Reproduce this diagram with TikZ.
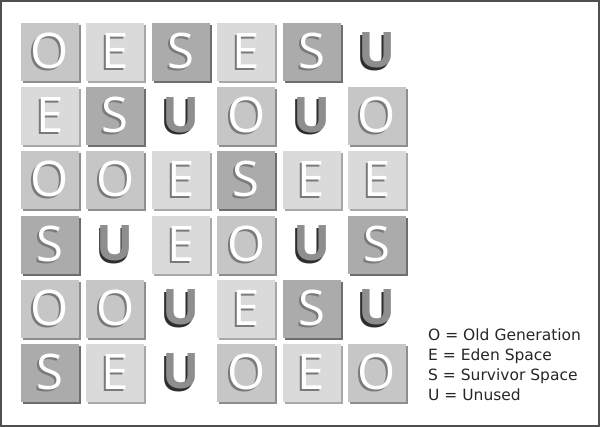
\documentclass[tikz,border=0pt]{standalone}
\usepackage{fontspec}
\setmainfont{DejaVu Sans}
\newfontfamily\blockfont{Open Sans}
\usetikzlibrary{positioning,shadows}

\definecolor{oldgen}{HTML}{C6C6C6}
\definecolor{eden}{HTML}{DADADA}
\definecolor{survivor}{HTML}{ABABAB}
\definecolor{oldedge}{HTML}{8E8E8E}
\definecolor{edenedge}{HTML}{A8A8A8}
\definecolor{survedge}{HTML}{6E6E6E}
\definecolor{carveshade}{HTML}{7A7A7A}
\definecolor{unusedface}{HTML}{8E8E8E}
\definecolor{unusedshade}{HTML}{2E2E2E}
\definecolor{framegray}{HTML}{4F4F4F}

% white letter cut into a block, grey edge down-left
\newcommand\carve[1]{\rlap{\kern-2pt\raisebox{-2pt}{\textcolor{carveshade}{#1}}}\textcolor{white}{#1}}
% free-standing grey letter
\newcommand\raised[1]{\rlap{\kern-1.5pt\raisebox{-2.5pt}{\textcolor{unusedshade}{#1}}}\textcolor{unusedface}{#1}}
\newcommand\blockletter[1]{\if U#1\raised{#1}\else\carve{#1}\fi}

\begin{document}
\begin{tikzpicture}[
                x=1pt, y=-1pt,
                tile/.style={rectangle,minimum size=58pt,inner sep=0pt,
                  font=\blockfont\fontsize{49}{49}\selectfont},
                tileO/.style={tile,fill=oldgen,
                  drop shadow={shadow xshift=2pt,shadow yshift=-2pt,fill=oldedge,opacity=1}},
                tileE/.style={tile,fill=eden,
                  drop shadow={shadow xshift=2pt,shadow yshift=-2pt,fill=edenedge,opacity=1}},
                tileS/.style={tile,fill=survivor,
                  drop shadow={shadow xshift=2pt,shadow yshift=-2pt,fill=survedge,opacity=1}},
                tileU/.style={tile,font=\blockfont\bfseries\fontsize{49}{49}\selectfont},
                legend/.style={align=left,inner sep=0pt,
                  font=\fontsize{15.5}{20}\selectfont,text=black!85}
            ]
                \useasboundingbox (0,0) rectangle (600,427);
                \draw[framegray,line width=2pt] (1,1) rectangle (599,426);

                \foreach \row [count=\r] in {{O,E,S,E,S,U},{E,S,U,O,U,O},{O,O,E,S,E,E},
                                             {S,U,E,O,U,S},{O,O,U,E,S,U},{S,E,U,O,E,O}}
                  \foreach \l [count=\c] in \row
                    \node[tile\l] (t\r\c) at (\c*65.4-15.4, \r*64.2-12.2) {\blockletter\l};

                \node[legend,anchor=north west] (key) at (428,329)
                  {O = Old Generation\\E = Eden Space\\S = Survivor Space\\U = Unused};
            \end{tikzpicture}
\end{document}
